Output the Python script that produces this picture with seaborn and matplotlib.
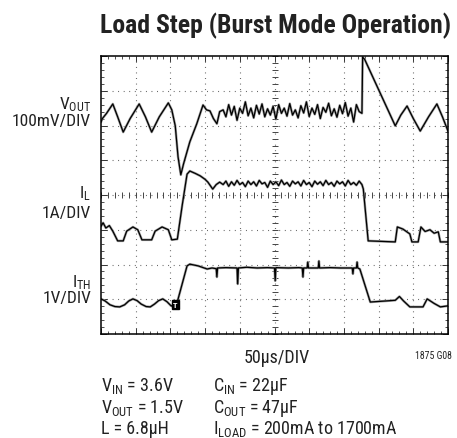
import matplotlib
matplotlib.use("Agg")
import matplotlib.pyplot as plt
import numpy as np
import pandas as pd
import seaborn as sns
from matplotlib.ticker import MultipleLocator

# Time in µs (50µs/DIV, 10 DIV); amplitude in screen divisions (0 = bottom, 8 = top)
vout_t = [0, 2, 8, 17, 24, 32, 42, 55, 64, 73, 84, 97, 102, 107, 111, 115, 119, 128, 138, 147,
          152, 157, 162, 167, 171,
          176, 180, 184, 188, 192, 196, 200, 204, 208, 212, 216, 220, 224, 228, 232, 236, 240, 244,
          248, 252, 256, 260, 264, 268, 272, 276, 280, 284, 288, 292, 296, 300, 304, 308, 312, 316,
          320, 324, 328, 332, 336, 340, 344, 348, 352, 356, 360, 364, 368, 372,
          376, 377, 380, 424, 432, 441, 450, 460, 472, 484, 492, 500]
vout_y = [6.1, 6.2, 6.35, 6.62, 6.25, 5.81, 6.2, 6.62, 6.25, 5.81, 6.25, 6.65, 6.45, 5.99, 5.1, 4.58, 4.9, 5.53, 6.05, 6.59,
          6.45, 6.42, 6.2, 6.05, 6.4,
          6.45, 6.25, 6.6, 6.3, 6.55, 6.15, 6.5, 6.35, 6.68, 6.28,
          6.5, 6.22, 6.58, 6.33, 6.62, 6.25, 6.48, 6.3, 6.55, 6.18,
          6.6, 6.35, 6.5, 6.27, 6.63, 6.3, 6.45, 6.22, 6.57, 6.36,
          6.68, 6.26, 6.5, 6.32, 6.6, 6.2, 6.52, 6.38, 6.64, 6.28,
          6.48, 6.24, 6.58, 6.34, 6.66, 6.27, 6.5, 6.1, 6.6, 6.4,
          6.35, 7.97, 7.9, 5.99, 6.3, 6.56, 6.2, 5.84, 6.25, 6.62, 6.25, 5.84]

il_t = [0, 3, 7, 12, 17, 24, 32, 37, 46, 53, 59, 73, 78, 88, 97, 102, 110, 117, 124, 128, 136, 143,
        150, 154, 161, 166, 171,
        176, 180, 184, 188, 192, 196, 200, 204, 208, 212, 216, 220, 224, 228, 232, 236, 240, 244,
        248, 252, 256, 260, 264, 268, 272, 276, 280, 284, 288, 292, 296, 300, 304, 308, 312, 316,
        320, 324, 328, 332, 336, 340, 344, 348, 352, 356, 360, 364, 368, 372,
        376, 378, 385, 424, 427, 435, 445, 448, 457, 461, 467, 474, 480, 486, 489, 500]
il_y = [3.1, 3.2, 3.05, 3.12, 2.96, 2.68, 2.68, 2.96, 3.08, 3.0, 2.71, 2.71, 2.96, 3.08, 3.0, 2.71, 2.73, 3.7, 4.6, 4.69, 4.62, 4.55,
        4.45, 4.37, 4.17, 4.3, 4.37,
        4.3, 4.4, 4.25, 4.38, 4.28, 4.42, 4.3, 4.36, 4.24, 4.4,
        4.3, 4.38, 4.26, 4.42, 4.32, 4.36, 4.22, 4.4, 4.3, 4.38,
        4.27, 4.43, 4.3, 4.36, 4.25, 4.4, 4.32, 4.38, 4.26, 4.42,
        4.3, 4.36, 4.24, 4.4, 4.31, 4.38, 4.27, 4.42, 4.3, 4.36,
        4.25, 4.4, 4.32, 4.38, 4.26, 4.42, 4.3, 4.36, 4.28, 4.4,
        4.3, 4.17, 2.68, 2.65, 3.08, 3.02, 2.88, 2.65, 2.65, 3.08, 2.95, 3.0, 2.9, 2.94, 2.65, 2.65]

ith_t = [0, 6, 13, 20, 27, 34, 40, 46, 52, 58, 65, 71, 77, 83, 89, 95, 100, 104, 108,
         124, 128, 140, 153, 160, 166, 167, 168, 180, 196, 197, 198, 210, 225, 240, 250, 251, 252,
         270, 285, 290, 291, 292, 297, 298, 299, 313, 314, 315, 330, 345, 362, 363, 364, 368, 369, 370,
         373, 388, 410, 424, 430, 436, 445, 464, 470, 480, 489, 500]
ith_y = [1.01, 0.95, 0.84, 0.79, 0.78, 0.84, 0.95, 1.01, 0.96, 0.86, 0.79, 0.78, 0.86, 0.96, 1.01, 0.93, 0.83, 0.78, 0.78,
         1.96, 2.01, 1.96, 1.87, 1.9, 1.88, 1.64, 1.9, 1.91, 1.9, 1.44, 1.9, 1.92, 1.9, 1.91, 1.9, 1.53, 1.91,
         1.9, 1.91, 1.9, 1.64, 1.9, 1.9, 2.07, 1.9, 1.9, 2.1, 1.9, 1.91, 1.9, 1.9, 1.73, 1.9, 1.9, 2.07, 1.9,
         1.87, 0.92, 0.95, 0.97, 1.08, 0.95, 0.78, 0.78, 1.01, 0.88, 0.78, 0.81]

trigger_t, trigger_y = 107, 0.85

channel_labels = [("V$_{\\mathrm{OUT}}$", "100mV/DIV", 109, 126),
                  ("I$_{\\mathrm{L}}$", "1A/DIV", 198, 218),
                  ("I$_{\\mathrm{TH}}$", "1V/DIV", 287, 303)]
title = "Load Step (Burst Mode Operation)"
xlabel = "50μs/DIV"
fig_id = "1875 G08"
params_left = ["V$_{\\mathrm{IN}}$ = 3.6V", "V$_{\\mathrm{OUT}}$ = 1.5V", "L = 6.8μH"]
params_right = ["C$_{\\mathrm{IN}}$ = 22μF", "C$_{\\mathrm{OUT}}$ = 47μF", "I$_{\\mathrm{LOAD}}$ = 200mA to 1700mA"]

sns.set_theme(style="white")
FONT = "Roboto Condensed"
FAM = [FONT, "DejaVu Sans"]
plt.rcParams["font.family"] = FAM
plt.rcParams["mathtext.fontset"] = "custom"
plt.rcParams["mathtext.rm"] = FONT
plt.rcParams["mathtext.it"] = FONT
plt.rcParams["mathtext.bf"] = FONT + ":bold"

W, H = 457, 439
fig = plt.figure(figsize=(W / 100, H / 100), dpi=100)
L, R, T, B = 101, 448, 57, 335
ax = fig.add_axes([L / W, 1 - B / H, (R - L) / W, (B - T) / H])
ax.set_xlim(0, 500)
ax.set_ylim(0, 8)

# graticule
grid_kw = dict(color="#555555", lw=0.8, ls=(0, (0.8, 4.2)), zorder=1)
for k in range(1, 10):
    ax.axvline(k * 50, **grid_kw)
for k in range(1, 8):
    ax.axhline(k, **grid_kw)
tx = np.arange(0, 500.01, 10)
ty = np.arange(0, 8.001, 0.2)
ax.plot(tx, np.full_like(tx, 4.0), ls="none", marker="|", ms=4, mew=0.7, color="#444444", zorder=1)
ax.plot(np.full_like(ty, 250.0), ty, ls="none", marker="_", ms=4, mew=0.7, color="#444444", zorder=1)

traces = pd.concat([
    pd.DataFrame({"t": vout_t, "v": vout_y, "ch": "VOUT"}),
    pd.DataFrame({"t": il_t, "v": il_y, "ch": "IL"}),
    pd.DataFrame({"t": ith_t, "v": ith_y, "ch": "ITH"}),
])
for ch, d in traces.groupby("ch", sort=False):
    sns.lineplot(data=d, x="t", y="v", sort=False, estimator=None, color="#a0a0a0", lw=1.8, ax=ax, zorder=2)
    sns.lineplot(data=d, x="t", y="v", sort=False, estimator=None, color="black", lw=0.9, ax=ax, zorder=3)

ax.text(trigger_t, trigger_y, "T", color="white", fontsize=6, fontweight="bold", ha="center", va="center",
        zorder=5, bbox=dict(boxstyle="square,pad=0.12", fc="black", ec="black"))

ax.set_xlabel("")
ax.set_ylabel("")
ax.set_xticklabels([])
ax.set_yticklabels([])
ax.xaxis.set_major_locator(MultipleLocator(50))
ax.yaxis.set_major_locator(MultipleLocator(1))
ax.xaxis.set_minor_locator(MultipleLocator(10))
ax.yaxis.set_minor_locator(MultipleLocator(0.2))
ax.tick_params(which="both", direction="in", top=True, right=True, bottom=True, left=True, color="#333333")
ax.tick_params(which="major", length=4, width=0.7)
ax.tick_params(which="minor", length=2.5, width=0.6)
for s in ax.spines.values():
    s.set_color("black")
    s.set_linewidth(1.1)
    s.set_visible(True)

def fx(px):
    return px / W

def fy(py):
    return 1 - py / H

fig.text(fx(276), fy(33), title, ha="center", va="baseline", fontsize=18.5, fontweight="bold", color="#222222")
for top, bottom, yb1, yb2 in channel_labels:
    fig.text(fx(91), fy(yb1), top, ha="right", va="baseline", fontsize=12.5, color="#222222")
    fig.text(fx(91), fy(yb2), bottom, ha="right", va="baseline", fontsize=12.5, color="#222222")
fig.text(fx(277), fy(363), xlabel, ha="center", va="baseline", fontsize=13, color="#222222")
fig.text(fx(452), fy(359), fig_id, ha="right", va="baseline", fontsize=7, color="#222222")
for i, (a, b) in enumerate(zip(params_left, params_right)):
    yb = [391, 413, 434][i]
    fig.text(fx(101), fy(yb), a, ha="left", va="baseline", fontsize=13, color="#222222")
    fig.text(fx(213), fy(yb), b, ha="left", va="baseline", fontsize=13, color="#222222")

fig.savefig("out.png", dpi=100, facecolor="white")
